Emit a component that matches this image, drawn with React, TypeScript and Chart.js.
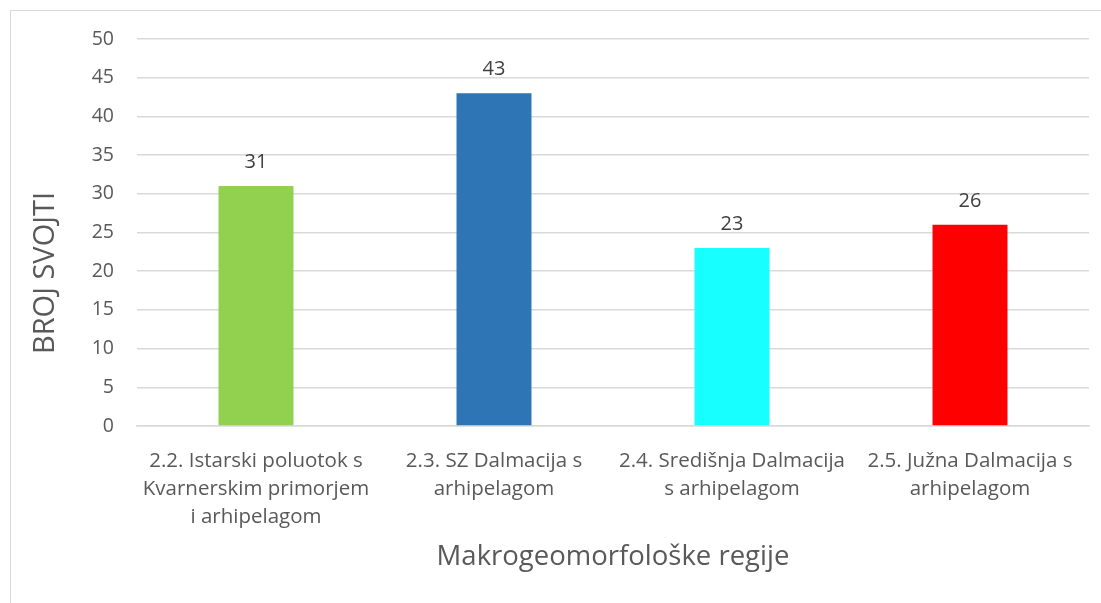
import React, { useEffect, useRef } from "react";
import { Chart, registerables } from "chart.js";

Chart.register(...registerables);

const categories: string[][] = [
  ["2.2. Istarski poluotok s", "Kvarnerskim primorjem", "i arhipelagom"],
  ["2.3. SZ Dalmacija s", "arhipelagom"],
  ["2.4. Središnja Dalmacija", "s arhipelagom"],
  ["2.5. Južna Dalmacija s", "arhipelagom"],
];
const values: number[] = [31, 43, 23, 26];
const barColors: string[] = ["#92D050", "#2E75B6", "#17FFFF", "#FF0000"];
const yTitle = "BROJ SVOJTI";
const xTitle = "Makrogeomorfološke regije";

const FONT = "'Open Sans', sans-serif";

const dataLabels = {
  id: "dataLabels",
  afterDatasetsDraw(chart: any) {
    const ctx = chart.ctx;
    const meta = chart.getDatasetMeta(0);
    ctx.save();
    ctx.font = `20px ${FONT}`;
    ctx.fillStyle = "#404040";
    ctx.textAlign = "center";
    ctx.textBaseline = "alphabetic";
    meta.data.forEach((bar: any, i: number) => {
      ctx.fillText(String(chart.data.datasets[0].data[i]), bar.x, bar.y - 18);
    });
    ctx.restore();
  },
};

const yTitlePlugin = {
  id: "yTitlePlugin",
  afterDraw(chart: any) {
    const ctx = chart.ctx;
    ctx.save();
    ctx.translate(46, 273);
    ctx.rotate(-Math.PI / 2);
    ctx.font = `29px ${FONT}`;
    ctx.fillStyle = "#595959";
    ctx.textAlign = "center";
    ctx.textBaseline = "middle";
    ctx.fillText(yTitle, 0, 0);
    ctx.restore();
  },
};

export default function App() {
  const ref = useRef<HTMLCanvasElement>(null);
  useEffect(() => {
    if (!ref.current) return;
    const chart = new Chart(ref.current, {
      type: "bar",
      data: {
        labels: categories,
        datasets: [
          {
            data: values,
            backgroundColor: barColors,
            barPercentage: 0.315,
            categoryPercentage: 1,
          },
        ],
      },
      plugins: [dataLabels, yTitlePlugin],
      options: {
        animation: false,
        responsive: false,
        maintainAspectRatio: false,
        layout: { padding: { top: 39, right: 12, left: 0, bottom: 0 } },
        plugins: { legend: { display: false }, tooltip: { enabled: false } },
        scales: {
          x: {
            grid: { display: false },
            border: { display: true, color: "#d9d9d9", width: 1.5 },
            ticks: {
              color: "#595959",
              font: { family: FONT, size: 20.5, lineHeight: 1.37 },
              padding: 13,
              maxRotation: 0,
              autoSkip: false,
            },
            title: {
              display: true,
              text: xTitle,
              color: "#595959",
              font: { family: FONT, size: 27.5 },
              padding: { top: 0, bottom: 29 },
            },
            afterFit: (s: any) => {
              s.height = 177;
            },
          },
          y: {
            min: 0,
            max: 50,
            grid: { color: "#d9d9d9", lineWidth: 1.5, drawTicks: false },
            border: { display: false },
            ticks: {
              stepSize: 5,
              color: "#595959",
              font: { family: FONT, size: 19.5 },
              padding: 23,
            },
            title: { display: false },
            afterFit: (s: any) => {
              s.width = 137;
            },
          },
        },
      },
    });
    return () => chart.destroy();
  }, []);
  return (
    <div style={{ position: "fixed", left: 0, top: 0, width: 1101, height: 603, background: "#fff" }}>
      <div
        style={{
          position: "absolute",
          left: 10,
          top: 10,
          width: 1100,
          height: 600,
          border: "1px solid #d9d9d9",
        }}
      />
      <canvas ref={ref} width={1101} height={603} style={{ position: "absolute", left: 0, top: 0 }} />
    </div>
  );
}
